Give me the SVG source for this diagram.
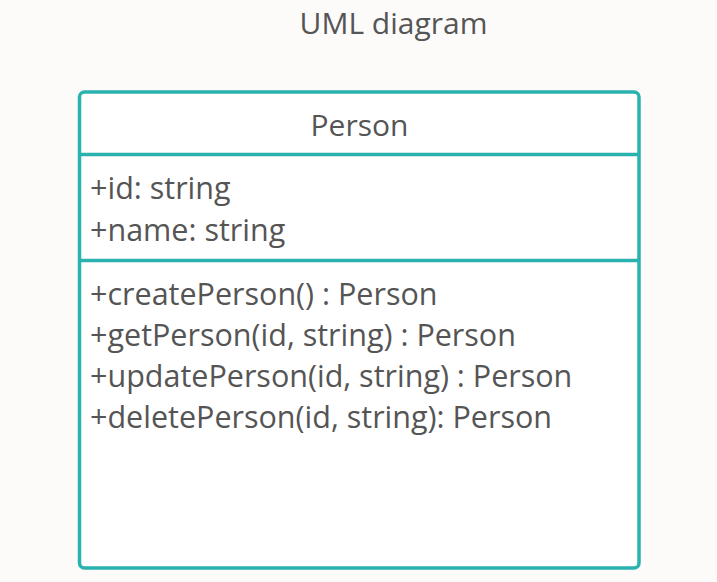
<svg xmlns="http://www.w3.org/2000/svg" width="717" height="582" viewBox="0 0 717 582">
<style>
text{font-family:"Open Sans","Noto Sans",sans-serif;font-size:30px;fill:#555555}
.m{font-size:30.5px}
.box{fill:#ffffff;stroke:#2ab3ae;stroke-width:3.5}
.div{stroke:#2ab3ae;stroke-width:3.5}
</style>
<rect x="0" y="0" width="717" height="582" fill="#fcfbfa"/>
<text id="title" x="393.5" y="34" text-anchor="middle">UML diagram</text>
<g id="Person">
<rect class="box" x="79.5" y="92" width="559.5" height="476" rx="5"/>
<line class="div" x1="79.5" y1="154.5" x2="639" y2="154.5"/>
<line class="div" x1="79.5" y1="260.5" x2="639" y2="260.5"/>
<text x="359.5" y="136" text-anchor="middle">Person</text>
<text class="m" x="90" y="199">+id: string</text>
<text class="m" x="90" y="240.5">+name: string</text>
<text class="m" x="90" y="304.5">+createPerson() : Person</text>
<text class="m" x="90" y="345.5">+getPerson(id, string) : Person</text>
<text class="m" x="90" y="386.5">+updatePerson(id, string) : Person</text>
<text class="m" x="90" y="427.5">+deletePerson(id, string): Person</text>
</g>
<g id="connectors"/>
</svg>
